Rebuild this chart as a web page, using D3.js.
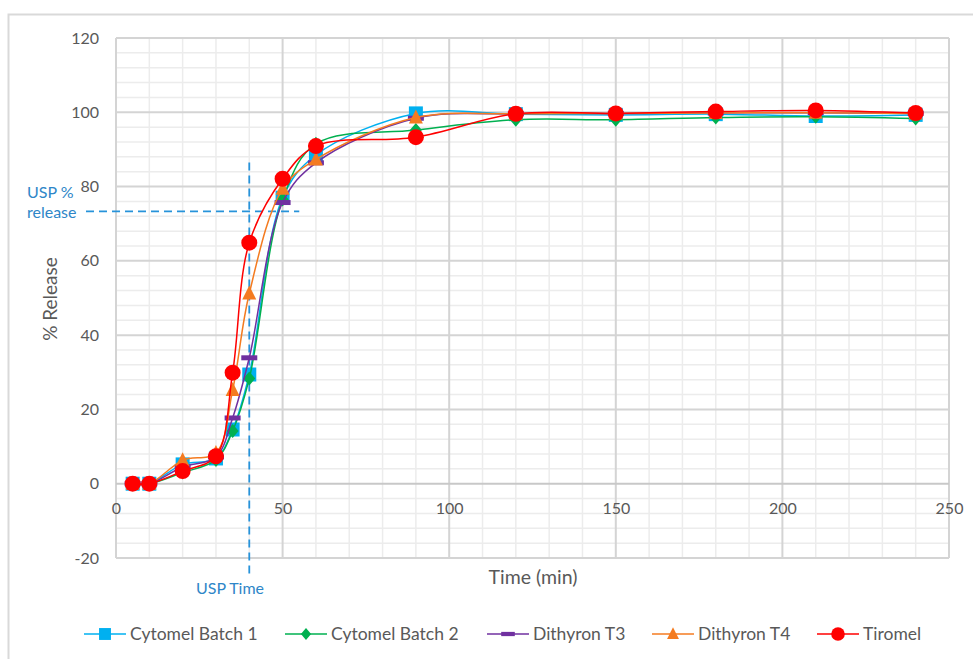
<!DOCTYPE html>
<html><head><meta charset="utf-8">
<script src="https://cdn.jsdelivr.net/npm/d3@7/dist/d3.min.js"></script>
<style>body{margin:0;background:#fff;} svg{display:block;font-family:Lato, "Open Sans", sans-serif;}</style>
</head><body><svg id="c" width="973" height="659"></svg>
<script>
const times = [5,10,20,30,35,40,50,60,90,120,150,180,210,240];
const cytomel1 = [0,0,5.2,6.8,14.6,29.4,77.0,88.5,99.7,99.5,99.3,99.5,99.0,99.3];
const cytomel2 = [0,0,3.0,6.4,14.2,28.3,76.5,91.5,95.2,98.0,98.0,98.6,98.8,98.3];
const dithT3  = [0,0,4.5,7.2,17.7,33.9,75.7,86.4,98.4,99.6,99.7,99.8,99.9,99.7];
const dithT4  = [0,0,6.3,8.3,25.2,51.2,79.4,87.3,98.6,99.6,99.7,99.8,99.9,99.7];
const tiromel = [0,0,3.4,7.4,29.9,64.9,82.1,90.9,93.3,99.6,99.7,100.2,100.5,99.8];
const seriesNames = ["Cytomel Batch 1","Cytomel Batch 2","Dithyron T3","Dithyron T4","Tiromel"];
const seriesColors = ["#00B0F0","#00B050","#7030A0","#F47B20","#FF0000"];
const seriesMarkers = ["square","diamond","dash","triangle","circle"];
const xTicks = [0,50,100,150,200,250];
const yTicks = [-20,0,20,40,60,80,100,120];
const uspTime = 40, uspRelease = 73.3;

const seriesData = [cytomel1,cytomel2,dithT3,dithT4,tiromel];
const svg = d3.select("#c");
// outer frame
svg.append("path").attr("d","M8.5,659 L8.5,14.5 L973,14.5").attr("fill","none").attr("stroke","#d9d9d9").attr("stroke-width",2);

const x = d3.scaleLinear().domain([0,250]).range([116,949]);
const y = d3.scaleLinear().domain([-20,120]).range([558,38]);

const g = svg.append("g");
// minor grid
d3.range(0,251,10).filter(v=>v%50!==0).forEach(v=>{
  g.append("line").attr("x1",x(v)).attr("x2",x(v)).attr("y1",y(120)).attr("y2",y(-20)).attr("stroke","#ececec").attr("stroke-width",1.5);
});
d3.range(-20,121,4).filter(v=>v%20!==0).forEach(v=>{
  g.append("line").attr("x1",x(0)).attr("x2",x(250)).attr("y1",y(v)).attr("y2",y(v)).attr("stroke","#ececec").attr("stroke-width",1.5);
});
// major grid
xTicks.forEach(v=>{
  g.append("line").attr("x1",x(v)).attr("x2",x(v)).attr("y1",y(120)).attr("y2",y(-20)).attr("stroke","#d4d4d4").attr("stroke-width",2);
});
yTicks.forEach(v=>{
  g.append("line").attr("x1",x(0)).attr("x2",x(250)).attr("y1",y(v)).attr("y2",y(v)).attr("stroke", v===0?"#c8c8c8":"#d4d4d4").attr("stroke-width",2);
});

// axes labels via d3 axes (no domain/ticks lines)
const yAxis = svg.append("g").attr("transform","translate(99,0)")
  .call(d3.axisLeft(y).tickValues(yTicks).tickFormat(d=>String(d)).tickSize(0).tickPadding(0));
yAxis.select(".domain").remove();
yAxis.selectAll("text").attr("font-size",16).attr("fill","#595959").attr("font-family","Lato, sans-serif");
const xAxis = svg.append("g").attr("transform","translate(0,"+(y(0)+19)+")")
  .call(d3.axisBottom(x).tickValues(xTicks).tickFormat(d=>String(d)).tickSize(0).tickPadding(0));
xAxis.select(".domain").remove();
xAxis.selectAll("text").attr("font-size",16).attr("fill","#595959").attr("font-family","Lato, sans-serif");

svg.append("text").attr("transform","translate(57,299) rotate(-90)").attr("text-anchor","middle")
  .attr("font-size",19).attr("fill","#595959").text("% Release");
svg.append("text").attr("x",533).attr("y",584).attr("text-anchor","middle")
  .attr("font-size",19.5).attr("fill","#595959").text("Time (min)");

// USP lines
const uspColor = "#2793DA";
svg.append("line").attr("x1",x(uspTime)).attr("x2",x(uspTime)).attr("y1",y(86.5)).attr("y2",577)
  .attr("stroke",uspColor).attr("stroke-width",1.8).attr("stroke-dasharray","8,5");
svg.append("line").attr("x1",86).attr("x2",x(55)).attr("y1",y(uspRelease)).attr("y2",y(uspRelease))
  .attr("stroke",uspColor).attr("stroke-width",1.8).attr("stroke-dasharray","8,5");
svg.append("text").attr("x",27).attr("y",198).attr("font-size",16).attr("fill","#2E86C8").text("USP %");
svg.append("text").attr("x",27).attr("y",218).attr("font-size",16).attr("fill","#2E86C8").text("release");
svg.append("text").attr("x",230).attr("y",594).attr("text-anchor","middle").attr("font-size",16).attr("fill","#2E86C8").text("USP Time");

function drawMarker(sel, type, color, cx, cy, scale){
  const s = scale||1;
  if(type==="square") sel.append("rect").attr("x",cx-7*s).attr("y",cy-7*s).attr("width",14*s).attr("height",14*s).attr("fill",color);
  else if(type==="diamond") sel.append("path").attr("d",`M${cx},${cy-7*s}L${cx+6*s},${cy}L${cx},${cy+7*s}L${cx-6*s},${cy}Z`).attr("fill",color);
  else if(type==="dash") sel.append("rect").attr("x",cx-8*s).attr("y",cy-2.5*s).attr("width",16*s).attr("height",5*s).attr("fill",color);
  else if(type==="triangle") sel.append("path").attr("d",`M${cx},${cy-8*s}L${cx+7*s},${cy+6*s}L${cx-7*s},${cy+6*s}Z`).attr("fill",color);
  else if(type==="circle") sel.append("circle").attr("cx",cx).attr("cy",cy).attr("r",8*s).attr("fill",color);
}

const line = d3.line().x((d,i)=>x(times[i])).y(d=>y(d)).curve(d3.curveCatmullRom.alpha(0.5));
seriesData.forEach((vals,k)=>{
  const sg = svg.append("g");
  sg.append("path").attr("d",line(vals)).attr("fill","none").attr("stroke",seriesColors[k]).attr("stroke-width",1.5);
  vals.forEach((v,i)=>drawMarker(sg, seriesMarkers[k], seriesColors[k], x(times[i]), y(v)));
});

// legend
const legX = [84,285,487,652,817];
seriesNames.forEach((n,k)=>{
  const lg = svg.append("g");
  lg.append("line").attr("x1",legX[k]).attr("x2",legX[k]+42).attr("y1",634).attr("y2",634).attr("stroke",seriesColors[k]).attr("stroke-width",1.5);
  drawMarker(lg, seriesMarkers[k], seriesColors[k], legX[k]+21, 634, 0.85);
  lg.append("text").attr("x",legX[k]+46).attr("y",640).attr("font-size",17.5).attr("fill","#595959").text(n);
});
</script></body></html>
